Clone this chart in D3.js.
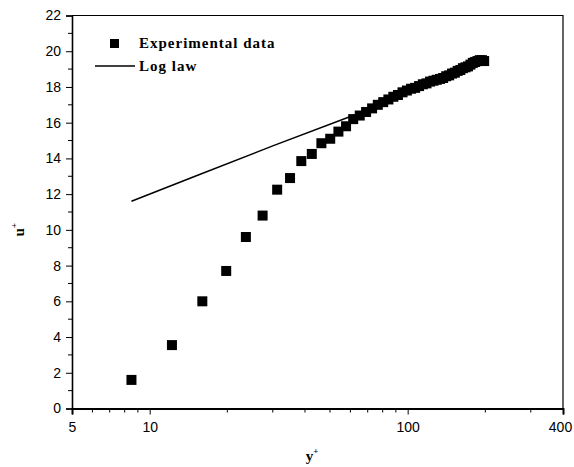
<!DOCTYPE html>
<html>
<head>
<meta charset="utf-8">
<script src="https://cdn.jsdelivr.net/npm/d3@7"></script>
<style>
  body { margin: 0; background: #fff; }
  svg { display: block; }
</style>
</head>
<body>
<script>
"use strict";

// DATA
const yPlus = [8.5, 12.2, 16.0, 19.8, 23.6, 27.4, 31.2, 35.0, 38.7, 42.5,
  46.3, 50.1, 53.9, 57.7, 61.5, 65.2, 69.0, 72.8, 76.6, 80.4,
  84.2, 88.0, 91.7, 95.5, 99.3, 103.1, 106.9, 110.7, 114.5, 118.3,
  122.1, 125.9, 129.6, 133.4, 137.2, 141.0, 144.8, 148.6, 152.4, 156.2,
  160.0, 163.7, 167.5, 171.3, 175.1, 178.9, 182.7, 186.5, 190.3, 194.1, 197.9];
const uPlus = [1.6, 3.55, 6.0, 7.7, 9.6, 10.8, 12.25, 12.9, 13.85, 14.25,
  14.85, 15.1, 15.5, 15.8, 16.2, 16.4, 16.6, 16.8, 17.0, 17.15,
  17.3, 17.45, 17.55, 17.7, 17.8, 17.9, 17.95, 18.05, 18.15, 18.2,
  18.3, 18.35, 18.4, 18.45, 18.5, 18.6, 18.65, 18.75, 18.8, 18.9,
  18.95, 19.05, 19.1, 19.15, 19.25, 19.35, 19.4, 19.45, 19.5, 19.5, 19.45];

const logLawY = [8.5, 15, 30, 60, 100, 190];
const logLawU = [11.6, 13.0, 14.7, 16.35, 17.6, 19.2];

const xMajorTicks = [5, 10, 100, 400];
const xMinorTicks = [6, 7, 8, 9, 20, 30, 40, 50, 60, 70, 80, 90, 200, 300];
const yMajorTicks = [0, 2, 4, 6, 8, 10, 12, 14, 16, 18, 20, 22];
const yMinorTicks = [1, 3, 5, 7, 9, 11, 13, 15, 17, 19, 21];

const width = 574, height = 467;
const margin = { top: 15.5, right: 11, bottom: 58.5, left: 72 };

const svg = d3.select("body").append("svg")
  .attr("width", width).attr("height", height);

const x = d3.scaleLog().domain([5, 400]).range([margin.left, width - margin.right]);
const y = d3.scaleLinear().domain([0, 22]).range([height - margin.bottom, margin.top]);

const tickFont = "Liberation Sans, Arial, sans-serif";
const titleFont = "Liberation Serif, Times New Roman, serif";

// frame (top + right)
svg.append("path")
  .attr("d", `M${margin.left},${margin.top}H${width - margin.right}V${height - margin.bottom}`)
  .attr("fill", "none").attr("stroke", "#000").attr("stroke-width", 1.2);

// x axis
const xAxis = svg.append("g").attr("transform", `translate(0,${height - margin.bottom})`);
xAxis.call(d3.axisBottom(x).tickValues(xMajorTicks).tickFormat(d3.format("d")).tickSize(6).tickPadding(8))
  .call(g => g.select(".domain").attr("stroke-width", 2))
  .call(g => g.selectAll("text").attr("font-family", tickFont).attr("font-size", 14).attr("fill", "#000"))
  // last label sits against the page edge
  .call(g => g.selectAll(".tick").filter(d => d === 400).select("text").attr("dx", -3));
xAxis.selectAll(".minor").data(xMinorTicks).join("line")
  .attr("class", "minor")
  .attr("x1", d => x(d)).attr("x2", d => x(d))
  .attr("y1", 0).attr("y2", 4)
  .attr("stroke", "#000");

// y axis
const yAxis = svg.append("g").attr("transform", `translate(${margin.left},0)`);
yAxis.call(d3.axisLeft(y).tickValues(yMajorTicks).tickSize(6).tickPadding(5))
  .call(g => g.select(".domain").attr("stroke-width", 1.6))
  .call(g => g.selectAll("text").attr("font-family", tickFont).attr("font-size", 14).attr("fill", "#000"));
yAxis.selectAll(".minor").data(yMinorTicks).join("line")
  .attr("class", "minor")
  .attr("x1", 0).attr("x2", -4)
  .attr("y1", d => y(d)).attr("y2", d => y(d))
  .attr("stroke", "#000");

// log law line
svg.append("path")
  .datum(logLawY.map((d, i) => [d, logLawU[i]]))
  .attr("fill", "none")
  .attr("stroke", "#000")
  .attr("stroke-width", 1.5)
  .attr("d", d3.line().x(d => x(d[0])).y(d => y(d[1])));

// experimental points
const sq = 10;
svg.append("g").selectAll("rect")
  .data(yPlus.map((d, i) => [d, uPlus[i]]))
  .join("rect")
  .attr("x", d => x(d[0]) - sq / 2)
  .attr("y", d => y(d[1]) - sq / 2)
  .attr("width", sq).attr("height", sq)
  .attr("fill", "#000");

// legend
const legend = svg.append("g")
  .attr("font-family", titleFont).attr("font-size", 15).attr("font-weight", "bold")
  .attr("letter-spacing", 1);
legend.append("rect").attr("x", 110).attr("y", 39).attr("width", 9).attr("height", 9);
legend.append("text").attr("x", 139).attr("y", 48).text("Experimental data");
legend.append("line").attr("x1", 95).attr("x2", 135).attr("y1", 66).attr("y2", 66)
  .attr("stroke", "#000").attr("stroke-width", 1.5);
legend.append("text").attr("x", 139).attr("y", 71).text("Log law");

// axis titles
svg.append("text")
  .attr("x", 312).attr("y", 461)
  .attr("text-anchor", "middle")
  .attr("font-family", titleFont).attr("font-size", 15).attr("font-weight", "bold")
  .call(t => t.append("tspan").text("y"))
  .call(t => t.append("tspan").attr("dy", -7).attr("font-size", 9).text("+"));

svg.append("text")
  .attr("transform", `translate(24,${y(10)}) rotate(-90)`)
  .attr("text-anchor", "middle")
  .attr("font-family", titleFont).attr("font-size", 15).attr("font-weight", "bold")
  .call(t => t.append("tspan").text("u"))
  .call(t => t.append("tspan").attr("dy", -7).attr("font-size", 9).text("+"));
</script>
</body>
</html>
